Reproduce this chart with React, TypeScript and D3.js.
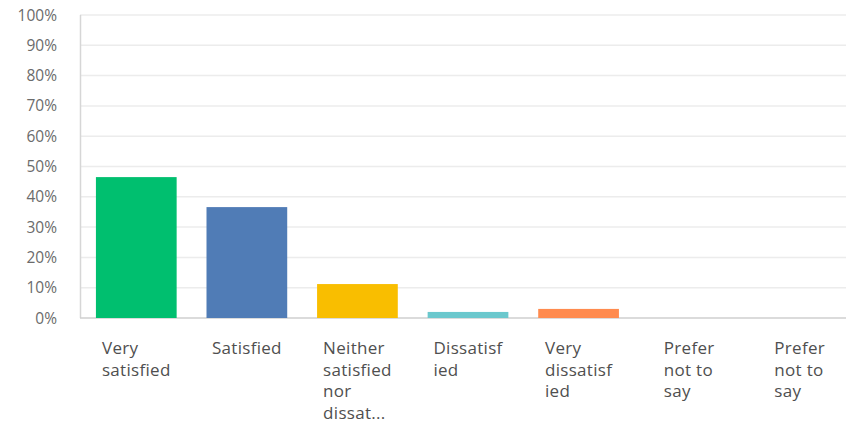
import React from "react";
import * as d3 from "d3";

const categories = ["Very satisfied", "Satisfied", "Neither satisfied nor dissatisfied", "Dissatisfied", "Very dissatisfied", "Prefer not to say", "Prefer not to say (2)"];
const labelLines = [
  ["Very", "satisfied"],
  ["Satisfied"],
  ["Neither", "satisfied", "nor", "dissat..."],
  ["Dissatisf", "ied"],
  ["Very", "dissatisf", "ied"],
  ["Prefer", "not to", "say"],
  ["Prefer", "not to", "say"],
];
const values = [46.5, 36.6, 11.2, 2.0, 3.0, 0, 0];
const colors = ["#00BF6F", "#507CB6", "#F9BE00", "#6BC8CD", "#FF8B4F", "#9DA3AA", "#9DA3AA"];
const yTicks = [0, 10, 20, 30, 40, 50, 60, 70, 80, 90, 100];

const W = 846;
const H = 424;
const LABEL_FONT = "17px 'Open Sans'";
const LABEL_SPACING = 0.3;

function measure(s: string): number {
  const c = document.createElement("canvas").getContext("2d");
  if (!c) return s.length * 8;
  c.font = LABEL_FONT;
  return c.measureText(s).width + LABEL_SPACING * s.length;
}

export default function App() {
  const x = d3.scaleBand<string>().domain(categories).range([81, 855]).paddingInner(0.27).paddingOuter(0.135);
  const y = d3.scaleLinear().domain([0, 100]).range([318, 15]);
  return (
    <svg width={W} height={H} style={{ position: "absolute", left: 0, top: 0, background: "#fff" }}>
      {yTicks.map((t) => (
        <g key={t}>
          {t > 0 && <line x1={80} x2={846} y1={y(t)} y2={y(t)} stroke="#ececec" strokeWidth={1.5} />}
          <text x={57} y={y(t)} dy="0.36em" textAnchor="end" fontFamily="Open Sans" fontSize={15.5} fill="#6b6b6b">
            {t}%
          </text>
        </g>
      ))}
      <line x1={80.5} x2={80.5} y1={y(100)} y2={y(0)} stroke="#d6d6d6" strokeWidth={1.5} />
      <line x1={80} x2={846} y1={y(0)} y2={y(0)} stroke="#cfcfcf" strokeWidth={1.5} />
      {categories.map((c, i) => (
        <rect key={c} x={x(c)} y={y(values[i])} width={x.bandwidth()} height={y(0) - y(values[i])} fill={colors[i]} />
      ))}
      {categories.map((c, i) => {
        const bw = Math.max(...labelLines[i].map(measure));
        const left = (x(c) as number) + x.bandwidth() / 2 - bw / 2;
        return (
          <text key={c} fontFamily="Open Sans" fontSize={17} letterSpacing={LABEL_SPACING} fill="#4f4f4f">
            {labelLines[i].map((l, j) => (
              <tspan key={j} x={left} y={354 + j * 21.7}>
                {l}
              </tspan>
            ))}
          </text>
        );
      })}
    </svg>
  );
}
